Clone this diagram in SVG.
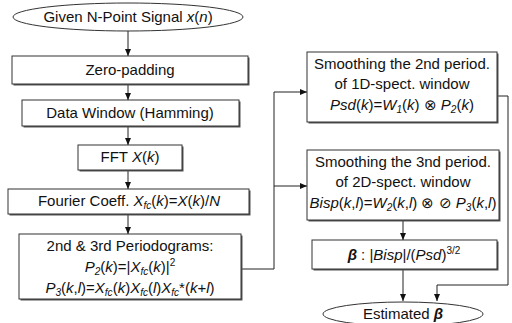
<svg xmlns="http://www.w3.org/2000/svg" width="512" height="323" viewBox="0 0 512 323">
<style>
.t{font-family:"Liberation Sans",Arial,sans-serif;font-size:15px;fill:#111;text-anchor:middle}
.i{font-style:italic}
.s{font-size:10px;font-style:italic}
.box{fill:#fff;stroke:#333;stroke-width:1}
.sh{fill:#555;stroke:none}
.c{fill:none;stroke:#222;stroke-width:1}
</style>
<defs>
<marker id="ah" markerWidth="8" markerHeight="8" refX="7" refY="4" orient="auto" markerUnits="userSpaceOnUse">
<path d="M0,1 L7,4 L0,7 Z" fill="#111"/>
</marker>
</defs>
<rect width="512" height="323" fill="#fff"/>
<g id="connectors">
<line class="c" x1="128" y1="31" x2="128" y2="56" marker-end="url(#ah)"/>
<line class="c" x1="128" y1="84" x2="128" y2="100" marker-end="url(#ah)"/>
<line class="c" x1="128" y1="126" x2="128" y2="145" marker-end="url(#ah)"/>
<line class="c" x1="128" y1="170" x2="128" y2="189" marker-end="url(#ah)"/>
<line class="c" x1="128" y1="214" x2="128" y2="234" marker-end="url(#ah)"/>
<polyline class="c" points="241,269 274,269 274,92 307,92" marker-end="url(#ah)"/>
<line class="c" x1="274" y1="186" x2="307" y2="186" marker-end="url(#ah)"/>
<polyline class="c" points="497,96 508,96 508,285 437,285 437,301" marker-end="url(#ah)"/>
<line class="c" x1="403" y1="220" x2="403" y2="240" marker-end="url(#ah)"/>
<line class="c" x1="403" y1="270" x2="403" y2="301" marker-end="url(#ah)"/>
</g>
<g id="start">
<ellipse class="box" cx="128" cy="17" rx="115" ry="14"/>
<text class="t" x="128" y="22">Given N-Point Signal <tspan class="i">x</tspan>(<tspan class="i">n</tspan>)</text>
</g>
<g id="zeropad">
<rect class="sh" x="13.5" y="57.5" width="236" height="28"/>
<rect class="box" x="12" y="56" width="236" height="28"/>
<text class="t" x="130" y="75">Zero-padding</text>
</g>
<g id="window">
<rect class="sh" x="23.5" y="101.5" width="217" height="26"/>
<rect class="box" x="22" y="100" width="217" height="26"/>
<text class="t" x="130" y="118">Data Window (Hamming)</text>
</g>
<g id="fft">
<rect class="sh" x="79.5" y="146.5" width="104" height="25"/>
<rect class="box" x="78" y="145" width="104" height="25"/>
<text class="t" x="130" y="162">FFT <tspan class="i">X</tspan>(<tspan class="i">k</tspan>)</text>
</g>
<g id="fourier">
<rect class="sh" x="9.5" y="190.5" width="241" height="25"/>
<rect class="box" x="8" y="189" width="241" height="25"/>
<text class="t" x="129" y="206">Fourier Coeff. <tspan class="i">X</tspan><tspan class="s" dy="3">fc</tspan><tspan dy="-3">(</tspan><tspan class="i">k</tspan>)=<tspan class="i">X</tspan>(<tspan class="i">k</tspan>)/<tspan class="i">N</tspan></text>
</g>
<g id="periodograms">
<rect class="sh" x="20.5" y="235.5" width="222" height="65"/>
<rect class="box" x="19" y="234" width="222" height="65"/>
<text class="t" x="130" y="251">2nd &amp; 3rd Periodograms:</text>
<text class="t" x="130" y="272"><tspan class="i">P</tspan><tspan class="s" dy="3">2</tspan><tspan dy="-3">(</tspan><tspan class="i">k</tspan>)=|<tspan class="i">X</tspan><tspan class="s" dy="3">fc</tspan><tspan dy="-3">(</tspan><tspan class="i">k</tspan>)|<tspan class="s" style="font-style:normal" dy="-6">2</tspan></text>
<text class="t" x="130" y="293"><tspan class="i">P</tspan><tspan class="s" dy="3">3</tspan><tspan dy="-3">(</tspan><tspan class="i">k</tspan>,<tspan class="i">l</tspan>)=<tspan class="i">X</tspan><tspan class="s" dy="3">fc</tspan><tspan dy="-3">(</tspan><tspan class="i">k</tspan>)<tspan class="i">X</tspan><tspan class="s" dy="3">fc</tspan><tspan dy="-3">(</tspan><tspan class="i">l</tspan>)<tspan class="i">X</tspan><tspan class="s" dy="3">fc</tspan><tspan dy="-3">*(</tspan><tspan class="i">k</tspan>+<tspan class="i">l</tspan>)</text>
</g>
<g id="smooth2">
<rect class="sh" x="308.5" y="53.5" width="190" height="70"/>
<rect class="box" x="307" y="52" width="190" height="70"/>
<text class="t" x="402" y="69">Smoothing the 2nd period.</text>
<text class="t" x="402" y="89">of 1D-spect. window</text>
<text class="t" x="402" y="110"><tspan class="i">Psd</tspan>(<tspan class="i">k</tspan>)=<tspan class="i">W</tspan><tspan class="s" dy="3">1</tspan><tspan dy="-3">(</tspan><tspan class="i">k</tspan>) ⊗ <tspan class="i">P</tspan><tspan class="s" dy="3">2</tspan><tspan dy="-3">(</tspan><tspan class="i">k</tspan>)</text>
</g>
<g id="smooth3">
<rect class="sh" x="308.5" y="151.5" width="192" height="70"/>
<rect class="box" x="307" y="150" width="192" height="70"/>
<text class="t" x="403" y="167">Smoothing the 3nd period.</text>
<text class="t" x="403" y="187">of 2D-spect. window</text>
<text class="t" x="403" y="208"><tspan class="i">Bisp</tspan>(<tspan class="i">k</tspan>,<tspan class="i">l</tspan>)=<tspan class="i">W</tspan><tspan class="s" dy="3">2</tspan><tspan dy="-3">(</tspan><tspan class="i">k</tspan>,<tspan class="i">l</tspan>) ⊗ ⊘ <tspan class="i">P</tspan><tspan class="s" dy="3">3</tspan><tspan dy="-3">(</tspan><tspan class="i">k</tspan>,<tspan class="i">l</tspan>)</text>
</g>
<g id="beta">
<rect class="sh" x="313.5" y="241.5" width="185" height="29"/>
<rect class="box" x="312" y="240" width="185" height="29"/>
<text class="t" x="404" y="260"><tspan class="i" font-weight="bold">β</tspan> : |<tspan class="i">Bisp</tspan>|/(<tspan class="i">Psd</tspan>)<tspan class="s" style="font-style:normal" dy="-6">3/2</tspan></text>
</g>
<g id="end">
<ellipse class="box" cx="403" cy="314" rx="80" ry="12"/>
<text class="t" x="403" y="319">Estimated <tspan class="i" font-weight="bold">β</tspan></text>
</g>
</svg>
